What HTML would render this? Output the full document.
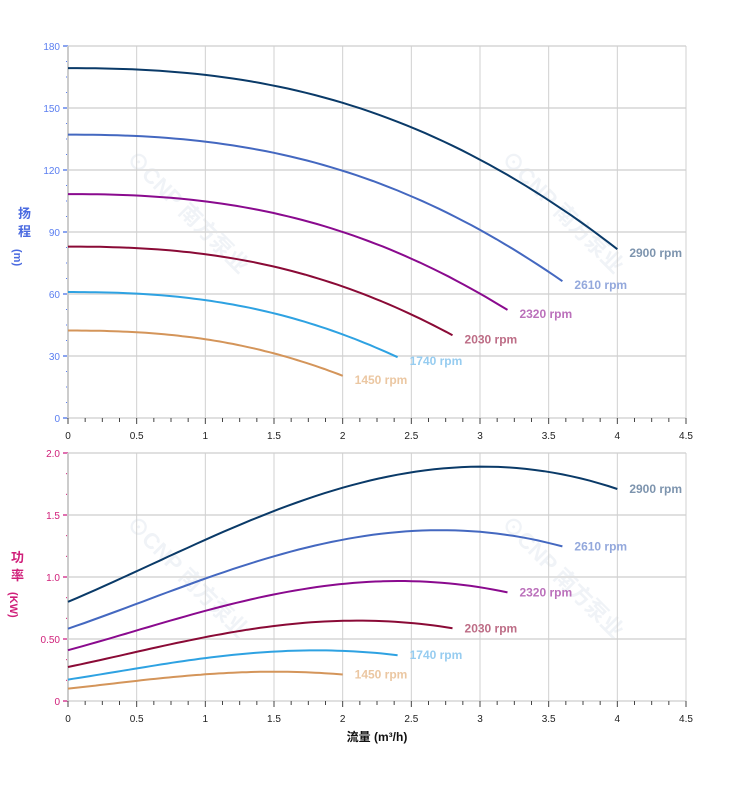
<!DOCTYPE html>
<html><head><meta charset="utf-8"><style>
html,body{margin:0;padding:0;background:#fff;}
svg{display:block;font-family:"Liberation Sans","Noto Sans CJK SC",sans-serif;}
</style></head><body>
<svg id="s" width="752" height="797" viewBox="0 0 752 797" xmlns="http://www.w3.org/2000/svg"></svg>
<script>
var s=document.getElementById('s'),h='';
var X0=68,XS=(686-68)/4.5;
function px(q){return X0+q*XS;}
var T0=418,TS=(418-46)/180;
var B0=701,BS=(701-453)/2;
function wm(x,y){h+='<text x="'+x+'" y="'+y+'" transform="rotate(45 '+x+' '+y+')" font-size="22" font-weight="bold" fill="#f0f3f7">⊙CNP 南方泵业</text>';}
wm(125,160);wm(500,160);wm(125,525);wm(500,525);
for(var v=0;v<=180;v+=30){var y=T0-v*TS;h+='<line x1="68" x2="686" y1="'+y+'" y2="'+y+'" stroke="#e0e0e0" stroke-width="2"/>';
h+='<text x="60" y="'+(y+4)+'" font-size="10" fill="#5a7ef0" text-anchor="end">'+v+'</text>';
h+='<line x1="63" x2="68" y1="'+y+'" y2="'+y+'" stroke="#8aa4f0" stroke-width="2"/>';}
for(var v=0;v<180;v+=7.5){var y=T0-v*TS;if(v%30)h+='<line x1="66" x2="69" y1="'+y+'" y2="'+y+'" stroke="#5a7ef0"/>';}
var bl=['0','0.50','1.0','1.5','2.0'];
for(var i=0;i<=4;i++){var y=B0-i*0.5*BS;h+='<line x1="68" x2="686" y1="'+y+'" y2="'+y+'" stroke="#e0e0e0" stroke-width="2"/>';
h+='<text x="60" y="'+(y+4)+'" font-size="10" fill="#d0207a" text-anchor="end">'+bl[i]+'</text>';
h+='<line x1="63" x2="68" y1="'+y+'" y2="'+y+'" stroke="#e070b0" stroke-width="2"/>';}
for(var i=0;i<12;i++){if(i%3){var y=B0-i*(0.5/3)*BS;h+='<line x1="66" x2="69" y1="'+y+'" y2="'+y+'" stroke="#d0207a"/>';}}
for(var i=0;i<=9;i++){var x=px(i*0.5);
h+='<line x1="'+x+'" x2="'+x+'" y1="46" y2="418" stroke="#d0d0d0"/>';
h+='<line x1="'+x+'" x2="'+x+'" y1="453" y2="701" stroke="#d0d0d0"/>';
var l=(i*0.5).toString();
h+='<text x="'+x+'" y="439" font-size="10" fill="#222" text-anchor="middle">'+l+'</text>';
h+='<text x="'+x+'" y="722" font-size="10" fill="#222" text-anchor="middle">'+l+'</text>';}
for(var i=0;i<=36;i++){var x=px(i*0.125);
h+='<line x1="'+x+'" x2="'+x+'" y1="418" y2="'+(i%4?422:424)+'" stroke="#444"/>';
h+='<line x1="'+x+'" x2="'+x+'" y1="701" y2="'+(i%4?705:707)+'" stroke="#444"/>';}
h+='<line x1="68" x2="68" y1="46" y2="418" stroke="#ccc" stroke-width="2"/><line x1="68" x2="68" y1="453" y2="701" stroke="#ccc" stroke-width="2"/>';
h+='<text x="18" y="218" font-size="13" font-weight="bold" fill="#4a6ae0">扬</text><text x="18" y="236" font-size="13" font-weight="bold" fill="#4a6ae0">程</text>';
h+='<text transform="translate(14,249) rotate(90)" font-size="11" font-weight="bold" fill="#4a6ae0">(m)</text>';
h+='<text x="11" y="562" font-size="13" font-weight="bold" fill="#d0207a">功</text><text x="11" y="580" font-size="13" font-weight="bold" fill="#d0207a">率</text>';
h+='<text transform="translate(10,592) rotate(90)" font-size="11" font-weight="bold" fill="#d0207a">(KW)</text>';
h+='<text x="377" y="741" font-size="12" font-weight="bold" fill="#111" text-anchor="middle">流量 (m³/h)</text>';
function lag(PP,q){var r=0;for(var i=0;i<PP.length;i++){var t=PP[i][1];for(var j=0;j<PP.length;j++)if(j!=i)t*=(q-PP[j][0])/(PP[i][0]-PP[j][0]);r+=t;}return r;}
var HH=[[0,169.3],[1,166],[2,152.5],[3,125],[4,81.7]];
var PP=[[0,0.8],[1,1.3],[2,1.72],[3,1.89],[4,1.71]];
function H(q){return lag(HH,q);} function P(q){return lag(PP,q);}
var S=[[2900,'#0a3a68','#7d94ae'],[2610,'#4468c0','#93a8dc'],[2320,'#8a0a8e','#bb70bb'],[2030,'#8a0a36','#bd6d86'],[1740,'#2ea2e2','#96ccf0'],[1450,'#d4955a','#ebc7a2']];
S.forEach(function(c){var r=c[0]/2900,qe=4*r,a='',b='';
for(var i=0;i<=60;i++){var q=qe*i/60,u=q/r;
a+=(i?'L':'M')+px(q).toFixed(1)+','+(T0-r*r*H(u)*TS).toFixed(1);
b+=(i?'L':'M')+px(q).toFixed(1)+','+(B0-r*r*r*P(u)*BS).toFixed(1);}
h+='<path d="'+a+'" fill="none" stroke="'+c[1]+'" stroke-width="2"/>';
h+='<path d="'+b+'" fill="none" stroke="'+c[1]+'" stroke-width="2"/>';
var ye=T0-r*r*H(4)*TS,yb=B0-r*r*r*P(4)*BS;
h+='<text x="'+(px(qe)+12)+'" y="'+(ye+8)+'" font-size="12" font-weight="bold" fill="'+c[2]+'">'+c[0]+' rpm</text>';
h+='<text x="'+(px(qe)+12)+'" y="'+(yb+4)+'" font-size="12" font-weight="bold" fill="'+c[2]+'">'+c[0]+' rpm</text>';});
s.innerHTML=h;
</script>
</body></html>
